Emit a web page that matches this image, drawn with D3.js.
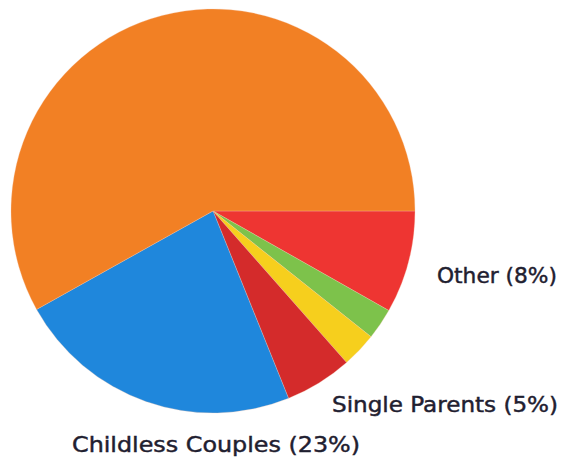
<!DOCTYPE html>
<html>
<head>
<meta charset="utf-8">
<script src="https://cdn.jsdelivr.net/npm/d3@7"></script>
<style>
body { margin: 0; background: #fff; }
svg text { font-family: "DejaVu Sans", Verdana, sans-serif; fill: #1f2030; stroke: #1f2030; stroke-width: 0.45; }
</style>
</head>
<body>
<div id="chart"></div>
<script>
// slices, clockwise from 3 o'clock
const categories = ["Other", "Slice B", "Slice C", "Single Parents", "Childless Couples", "Slice F"];
const values = [8.2, 2.5, 2.8, 5.4, 23.0, 58.1];
const colors = ["#ee3532", "#7dc24b", "#f6cf1d", "#d42b2b", "#1f87dc", "#f28024"];
const labels = ["Other (8%)", "", "", "Single Parents (5%)", "Childless Couples (23%)", ""];
// label anchor spots (x, baseline y, width)
const labelPos = [[437, 283, 120], null, null, [332, 412, 226], [72, 452, 288], null];

const W = 563, H = 463;
const cx = 213, cy = 211, r = 202;

const svg = d3.select('#chart').append('svg')
    .attr('width', W)
    .attr('height', H);

const data = categories.map((c, i) => ({name: c, value: values[i], color: colors[i], label: labels[i], pos: labelPos[i]}));

const pie = d3.pie()
    .sort(null)
    .value(d => d.value)
    .startAngle(Math.PI / 2)
    .endAngle(Math.PI / 2 + 2 * Math.PI);

const arc = d3.arc().innerRadius(0).outerRadius(r);

const g = svg.append('g').attr('transform', 'translate(' + cx + ',' + cy + ')');

g.selectAll('path')
    .data(pie(data))
    .enter().append('path')
    .attr('d', arc)
    .attr('fill', d => d.data.color)
    .attr('stroke', '#f4c8b0')
    .attr('stroke-width', 0.3);

svg.selectAll('text.lbl')
    .data(data.filter(d => d.label))
    .enter().append('text')
    .attr('class', 'lbl')
    .attr('x', d => d.pos[0])
    .attr('y', d => d.pos[1])
    .attr('font-size', 21)
    .attr('textLength', d => d.pos[2])
    .attr('lengthAdjust', 'spacingAndGlyphs')
    .text(d => d.label);
</script>
</body>
</html>
